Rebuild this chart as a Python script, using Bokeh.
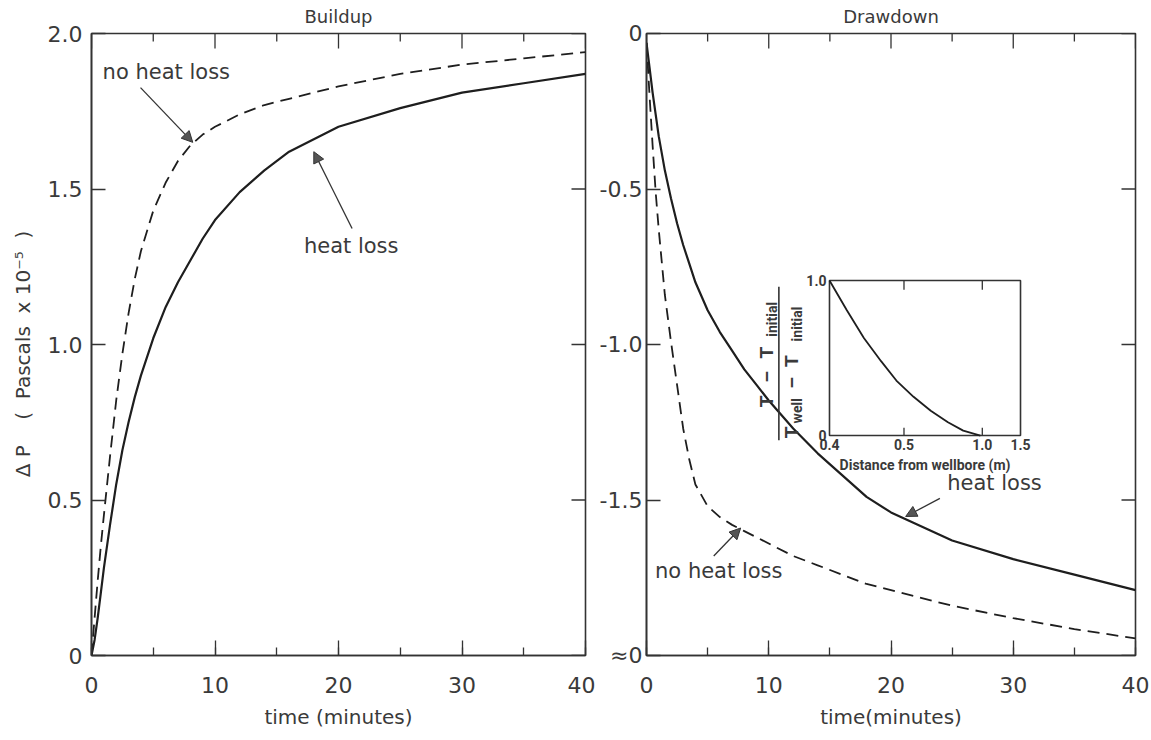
from bokeh.plotting import figure
from bokeh.layouts import row
from bokeh.models import (Range1d, FixedTicker, SingleIntervalTicker,
                          Arrow, NormalHead, Label, ColumnDataSource)
from bokeh.embed import file_html
from bokeh.resources import INLINE
from bokeh.core.properties import value

# ---------------- data ----------------
time_min = [0, 0.25, 0.5, 0.75, 1, 1.5, 2, 2.5, 3, 3.5, 4, 5, 6, 7, 8, 9, 10,
            12, 14, 16, 18, 20, 25, 30, 35, 40]

buildup_no_heat_loss = [0, 0.12, 0.24, 0.35, 0.45, 0.64, 0.82, 0.97, 1.10, 1.21, 1.30,
                        1.43, 1.52, 1.59, 1.64, 1.675, 1.70, 1.74, 1.77, 1.79, 1.81,
                        1.83, 1.87, 1.90, 1.92, 1.94]
buildup_heat_loss = [0, 0.05, 0.12, 0.20, 0.28, 0.42, 0.55, 0.66, 0.75, 0.83, 0.90,
                     1.02, 1.12, 1.20, 1.27, 1.34, 1.40, 1.49, 1.56, 1.62, 1.66,
                     1.70, 1.76, 1.81, 1.84, 1.87]

drawdown_heat_loss = [-0.03, -0.11, -0.19, -0.26, -0.33, -0.44, -0.53, -0.61, -0.68,
                      -0.74, -0.80, -0.89, -0.96, -1.02, -1.08, -1.13, -1.18, -1.27,
                      -1.35, -1.42, -1.49, -1.54, -1.63, -1.69, -1.74, -1.79]
drawdown_no_heat_loss = [-0.03, -0.20, -0.36, -0.51, -0.63, -0.84, -0.99, -1.13, -1.27,
                         -1.37, -1.45, -1.52, -1.555, -1.58, -1.60, -1.62, -1.64,
                         -1.68, -1.71, -1.74, -1.77, -1.79, -1.84, -1.88, -1.915, -1.945]

x_ticks_major = [0, 10, 20, 30, 40]
x_ticks_minor = [5, 15, 25, 35]
buildup_ticks = [0, 0.5, 1, 1.5, 2]
buildup_tick_labels = ["0", "0.5", "1.0", "1.5", "2.0"]
drawdown_ticks = [-2, -1.5, -1, -0.5, 0]
drawdown_tick_labels = ["\u22480", "-1.5", "-1.0", "-0.5", "0"]

# inset: positions along the (hand-drawn) distance axis
inset_tick_pos = [0.0, 0.39, 0.80, 1.0]
inset_tick_labels = ["0.4", "0.5", "1.0", "1.5"]
inset_ytick_pos = [0.0, 1.0]
inset_ytick_labels = ["0", "1.0"]
inset_dist_pos = [0.0, 0.09, 0.18, 0.27, 0.35, 0.44, 0.53, 0.62, 0.70, 0.79]
inset_temp = [1.0, 0.81, 0.63, 0.48, 0.355, 0.25, 0.16, 0.086, 0.032, 0.0]

# ---------------- styling ----------------
FRAME = "#333333"
INK = "#1e1e1e"
TXT = "#3a3a3a"
FONT = "DejaVu Sans"
IFONT = "Roboto"
FRAME_H = 622
NB = "\u00a0"


def make_panel(title, y0, y1, yticks, ylabels, min_left, frame_w, min_right, xlab, ylab,
               ystandoff):
    p = figure(x_range=Range1d(0, 40), y_range=Range1d(y0, y1),
               frame_width=frame_w, frame_height=FRAME_H,
               min_border_left=min_left, min_border_right=min_right,
               min_border_top=33, min_border_bottom=77,
               output_backend="svg", toolbar_location=None,
               background_fill_color="white", border_fill_color="white")
    p.outline_line_color = FRAME
    p.outline_line_width = 1.6
    p.grid.visible = False
    p.title.text = title
    p.title.align = "center"
    p.title.vertical_align = "top"
    p.title.text_font = FONT
    p.title.text_font_style = "normal"
    p.title.text_font_size = "18px"
    p.title.text_color = TXT

    overrides = {}
    for t, l in zip(yticks, ylabels):
        overrides[int(t) if float(t).is_integer() else t] = l

    for ax in (p.xaxis[0], p.yaxis[0]):
        ax.major_tick_out = 0
        ax.minor_tick_out = 0
        ax.axis_line_color = FRAME
        ax.axis_line_width = 1.6
        ax.major_tick_line_color = FRAME
        ax.major_tick_line_width = 1.3
        ax.minor_tick_line_color = FRAME
        ax.minor_tick_line_width = 1.3
        ax.major_label_text_font = FONT
        ax.major_label_text_color = TXT
        ax.major_label_text_font_size = "22px"
        ax.axis_label_text_font = FONT
        ax.axis_label_text_font_style = "normal"
        ax.axis_label_text_color = TXT
        ax.axis_label_text_font_size = "20px"

    xb = p.xaxis[0]
    xb.ticker = SingleIntervalTicker(interval=10, num_minor_ticks=2)
    xb.major_tick_in = 15
    xb.minor_tick_in = 8
    xb.major_label_standoff = 21
    xb.axis_label = xlab
    xb.axis_label_standoff = 9

    yl = p.yaxis[0]
    yl.ticker = FixedTicker(ticks=yticks)
    yl.major_label_overrides = overrides
    yl.major_tick_in = 14
    yl.minor_tick_line_color = None
    yl.major_label_standoff = ystandoff
    if ylab:
        yl.axis_label = ylab
        yl.axis_label_standoff = 10

    # mirrored tick marks on the top and right edges of the frame
    px_y = (y1 - y0) / FRAME_H
    px_x = 40.0 / frame_w
    p.segment(x0=x_ticks_major, y0=[y1] * 5, x1=x_ticks_major, y1=[y1 - 15 * px_y] * 5,
              line_color=FRAME, line_width=1.3)
    p.segment(x0=x_ticks_minor, y0=[y1] * 4, x1=x_ticks_minor, y1=[y1 - 8 * px_y] * 4,
              line_color=FRAME, line_width=1.3)
    p.segment(x0=[40] * len(yticks), y0=yticks, x1=[40 - 14 * px_x] * len(yticks), y1=yticks,
              line_color=FRAME, line_width=1.3)
    return p


def note(p, text, x, y):
    p.add_layout(Label(x=x, y=y, text=text, text_font=FONT, text_font_size="21px",
                       text_color=TXT, text_baseline="middle", text_align="left"))


def arrow(p, x0, y0, x1, y1):
    p.add_layout(Arrow(end=NormalHead(size=11, fill_color="#555555", line_color="#333333",
                                      line_width=1),
                       x_start=x0, y_start=y0, x_end=x1, y_end=y1,
                       line_color="#333333", line_width=1.3))


# ---------------- Buildup ----------------
ylabel = ("\u0394" + NB + "P" + NB * 4 + "(" + NB * 2 + "Pascals" + NB * 2 + "x" + NB
          + "10\u207b\u2075" + NB * 2 + ")" + NB * 3)
p1 = make_panel("Buildup", 0, 2, buildup_ticks, buildup_tick_labels, 91, 494, 10,
                "time (minutes)", ylabel, 9)
src1 = ColumnDataSource(dict(t=time_min, nh=buildup_no_heat_loss, hl=buildup_heat_loss))
p1.line("t", "nh", source=src1, line_color=INK, line_width=1.8, line_dash="12 7")
p1.line("t", "hl", source=src1, line_color=INK, line_width=2.2)
note(p1, "no heat loss", 0.9, 1.875)
arrow(p1, 3.97, 1.826, 8.2, 1.65)
note(p1, "heat loss", 17.2, 1.318)
arrow(p1, 21.1, 1.373, 18.0, 1.62)

# ---------------- Drawdown ----------------
p2 = make_panel("Drawdown", -2, 0, drawdown_ticks, drawdown_tick_labels, 51, 489, 15,
                "time(minutes)", None, 4)
src2 = ColumnDataSource(dict(t=time_min, nh=drawdown_no_heat_loss, hl=drawdown_heat_loss))
p2.line("t", "nh", source=src2, line_color=INK, line_width=1.8, line_dash="12 7")
p2.line("t", "hl", source=src2, line_color=INK, line_width=2.2)
note(p2, "heat loss", 24.6, -1.445)
arrow(p2, 24.0, -1.495, 21.2, -1.553)
note(p2, "no heat loss", 0.7, -1.727)
arrow(p2, 5.5, -1.68, 7.7, -1.59)

# ---------------- Inset (drawn on its own ranges inside the Drawdown frame) ----------------
p2.extra_x_ranges = {"ix": Range1d(-0.958, 1.602)}
p2.extra_y_ranges = {"iy": Range1d(-1.419, 2.594)}
IR = dict(x_range_name="ix", y_range_name="iy")

p2.quad(left=[inset_tick_pos[0]], right=[inset_tick_pos[-1]],
        bottom=[inset_ytick_pos[0]], top=[inset_ytick_pos[-1]],
        fill_color="white", line_color=FRAME, line_width=1.6, **IR)
p2.line(inset_dist_pos, inset_temp, line_color=INK, line_width=1.8, **IR)

inner = inset_tick_pos[1:-1]
p2.segment(x0=inner, y0=[inset_ytick_pos[-1]] * len(inner),
           x1=inner, y1=[inset_ytick_pos[-1] - 0.06] * len(inner),
           line_color=FRAME, line_width=1.3, **IR)
p2.segment(x0=inner, y0=[inset_ytick_pos[0]] * len(inner),
           x1=inner, y1=[inset_ytick_pos[0] + 0.05] * len(inner),
           line_color=FRAME, line_width=1.3, **IR)

p2.text(x=inset_tick_pos, y=[inset_ytick_pos[0]] * len(inset_tick_pos),
        text=inset_tick_labels, y_offset=3, text_font=value(IFONT), text_font_style="bold",
        text_font_size="14px", text_color=TXT, text_align="center", text_baseline="top", **IR)
p2.text(x=[inset_tick_pos[0]] * 2, y=inset_ytick_pos, text=inset_ytick_labels, x_offset=-3,
        text_font=value(IFONT), text_font_style="bold", text_font_size="14px",
        text_color=TXT, text_align="right", text_baseline="middle", **IR)

p2.add_layout(Label(x=0.50, y=-0.19, text="Distance from wellbore (m)", text_font=IFONT,
                    text_font_style="bold", text_font_size="14px", text_color=TXT,
                    text_align="center", text_baseline="middle", **IR))


def frac(text, x, y, size):
    p2.add_layout(Label(x=x, y=y, text=text, angle=90, angle_units="deg", text_font=IFONT,
                        text_font_style="bold", text_font_size=size, text_color=TXT,
                        text_align="center", text_baseline="middle", **IR))


# numerator  T - T_initial
frac("T", -0.33, 0.22, "19px")
frac("\u2013", -0.33, 0.38, "19px")
frac("T", -0.33, 0.535, "19px")
frac("initial", -0.30, 0.75, "14px")
# fraction bar
p2.segment(x0=[-0.265], y0=[-0.03], x1=[-0.265], y1=[0.96], line_color=FRAME, line_width=1.6, **IR)
# denominator  T_well - T_initial
frac("T", -0.20, 0.02, "19px")
frac("well", -0.17, 0.16, "14px")
frac("\u2013", -0.20, 0.34, "19px")
frac("T", -0.20, 0.48, "19px")
frac("initial", -0.17, 0.72, "14px")

layout = row(p1, p2)
open("out.html", "w").write(file_html(layout, INLINE))
